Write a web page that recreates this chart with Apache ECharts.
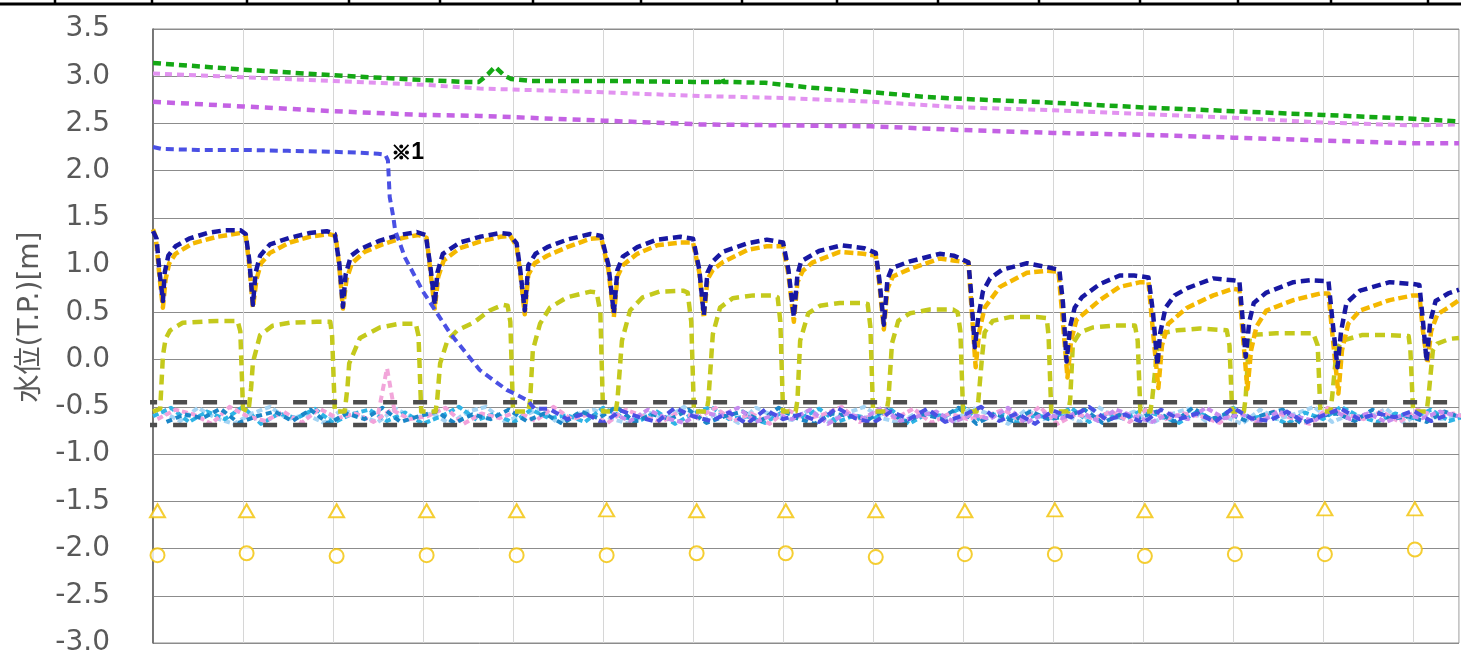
<!DOCTYPE html>
<html>
<head>
<meta charset="utf-8">
<script src="https://cdn.jsdelivr.net/npm/echarts@6/dist/echarts.min.js"></script>
<style>
  html, body { margin: 0; padding: 0; background: #ffffff; }
  #chart { width: 1461px; height: 653px; }
</style>
</head>
<body>
<div id="chart"></div>
<script>
// ---- axis range and labels ----
const yMin = -3.0, yMax = 3.5, yStep = 0.5;
const dayCount = 14.51;            // elapsed days shown on the x axis
const yAxisTitle = '水位(T.P.)[m]';
const noteLabel = '※1';

// ---- upper observation wells (slowly falling) ----
const wellGreen = [[0,3.14],[1.0,3.07],[2.0,3.01],[3.0,2.96],[3.45,2.94],[3.62,2.94],[3.72,3.02],[3.80,3.10],[3.90,3.01],[3.98,2.97],[4.2,2.95],[5.0,2.95],[6.0,2.94],[6.30,2.94],[6.32,2.99],[6.34,2.94],[6.8,2.93],[7.3,2.88],[8.0,2.83],[8.6,2.78],[9.0,2.76],[10.0,2.72],[11.0,2.67],[12.0,2.63],[13.0,2.59],[14.0,2.55],[14.51,2.52]];
const wellLavender = [[0,3.03],[1.0,2.99],[2.0,2.95],[3.0,2.91],[3.63,2.87],[5.0,2.83],[6.08,2.79],[7.0,2.77],[7.97,2.73],[9.0,2.67],[10.0,2.64],[11.0,2.60],[12.0,2.56],[13.0,2.51],[14.0,2.48],[14.51,2.49]];
const wellOrchid = [[0,2.73],[1.0,2.68],[2.0,2.63],[3.0,2.59],[3.63,2.58],[5.0,2.53],[6.08,2.49],[7.0,2.48],[7.97,2.47],[9.0,2.43],[10.0,2.40],[11.0,2.38],[12.0,2.35],[13.0,2.32],[14.0,2.29],[14.51,2.29]];

// ---- well marked ※1: steady, then drawn down into the pumping band ----
const wellNoteHead = [[0.00,2.25],[0.10,2.23],[0.5,2.22],[1.0,2.22],[1.5,2.21],[2.0,2.20],[2.3,2.19],[2.50,2.18],[2.58,2.17],[2.61,2.11],[2.63,1.72],[2.67,1.51],[2.69,1.37],[2.80,1.08],[3.0,0.72],[3.30,0.28],[3.63,-0.11],[3.93,-0.32],[4.16,-0.43],[4.24,-0.52]];
const notePointIndex = 8;
const wellNoteTailStart = 4.4;
const wellNoteTail = [-0.52,-0.63,-0.57,-0.67,-0.54,-0.61,-0.66,-0.51,-0.60,-0.65,
  -0.56,-0.68,-0.53,-0.63,-0.58,-0.66,-0.51,-0.62,-0.67,-0.55,
  -0.63,-0.52,-0.66,-0.59,-0.50,-0.65,-0.57,-0.68,-0.54,-0.61,
  -0.50,-0.64,-0.58,-0.67,-0.53,-0.63,-0.57,-0.66,-0.51,-0.62,
  -0.65,-0.55,-0.67,-0.59,-0.52,-0.63,-0.57,-0.61,-0.54,-0.65,-0.58];

// ---- daily drawdown / recovery wells ----
const wellNavy = [
  [0.00,1.36],[0.04,1.28],[0.07,0.95],[0.11,0.62],[0.13,0.92],[0.17,1.10],[0.25,1.20],[0.40,1.28],[0.60,1.34],[0.80,1.37],[0.97,1.37],[1.03,1.33],
  [1.07,1.05],[1.11,0.58],[1.14,0.92],[1.19,1.10],[1.30,1.22],[1.52,1.29],[1.74,1.34],[1.93,1.36],[2.02,1.33],
  [2.07,1.02],[2.11,0.56],[2.14,0.90],[2.20,1.10],[2.30,1.17],[2.52,1.26],[2.74,1.32],[2.93,1.35],[3.03,1.32],
  [3.08,1.00],[3.13,0.58],[3.16,0.92],[3.22,1.12],[3.41,1.24],[3.63,1.30],[3.86,1.34],[3.96,1.33],[4.04,1.23],
  [4.08,0.95],[4.13,0.52],[4.17,1.00],[4.25,1.12],[4.38,1.19],[4.60,1.27],[4.86,1.33],[4.98,1.31],
  [5.06,1.00],[5.12,0.49],[5.16,0.95],[5.22,1.09],[5.38,1.19],[5.60,1.27],[5.86,1.30],[6.00,1.28],
  [6.07,0.95],[6.12,0.47],[6.16,0.92],[6.22,1.04],[6.33,1.14],[6.60,1.23],[6.82,1.27],[7.00,1.24],
  [7.06,0.95],[7.12,0.45],[7.16,0.90],[7.20,1.04],[7.40,1.15],[7.65,1.21],[7.90,1.18],[8.03,1.13],
  [8.07,0.85],[8.12,0.37],[8.16,0.85],[8.21,0.97],[8.41,1.04],[8.74,1.12],[8.90,1.10],[9.06,1.03],
  [9.09,0.70],[9.13,0.13],[9.17,0.45],[9.22,0.72],[9.30,0.86],[9.43,0.95],[9.71,1.02],[9.93,0.98],[10.07,0.95],
  [10.11,0.60],[10.15,-0.02],[10.19,0.35],[10.24,0.55],[10.32,0.66],[10.52,0.80],[10.74,0.89],[10.90,0.89],[11.06,0.87],
  [11.11,0.50],[11.16,-0.06],[11.19,0.28],[11.25,0.55],[11.35,0.68],[11.50,0.76],[11.78,0.86],[12.00,0.84],[12.07,0.83],
  [12.10,0.50],[12.14,0.03],[12.18,0.40],[12.23,0.60],[12.37,0.71],[12.67,0.82],[12.86,0.84],[13.06,0.83],
  [13.10,0.45],[13.16,-0.08],[13.20,0.30],[13.26,0.60],[13.41,0.73],[13.74,0.82],[14.00,0.80],[14.07,0.79],
  [14.11,0.40],[14.15,-0.02],[14.19,0.40],[14.25,0.62],[14.39,0.70],[14.51,0.74]
];
const wellGold = [
  [0.00,1.38],[0.03,1.30],[0.07,0.90],[0.11,0.55],[0.14,0.85],[0.18,1.02],[0.25,1.12],[0.44,1.23],[0.71,1.30],[0.97,1.34],[1.03,1.31],
  [1.07,1.00],[1.11,0.55],[1.15,0.85],[1.20,1.02],[1.30,1.13],[1.52,1.24],[1.74,1.30],[1.95,1.33],[2.03,1.31],
  [2.07,0.98],[2.11,0.54],[2.15,0.85],[2.21,1.02],[2.35,1.14],[2.55,1.22],[2.78,1.29],[2.95,1.32],[3.04,1.29],
  [3.08,0.95],[3.13,0.54],[3.17,0.88],[3.23,1.05],[3.41,1.18],[3.63,1.25],[3.86,1.30],[3.97,1.31],[4.04,1.20],
  [4.08,0.92],[4.13,0.48],[4.17,0.90],[4.24,1.02],[4.38,1.10],[4.60,1.19],[4.86,1.28],[4.98,1.29],
  [5.06,0.95],[5.12,0.45],[5.16,0.88],[5.22,1.00],[5.38,1.12],[5.60,1.21],[5.86,1.24],[6.00,1.24],
  [6.07,0.92],[6.12,0.44],[6.16,0.85],[6.22,0.95],[6.33,1.03],[6.60,1.16],[6.82,1.20],[7.00,1.20],
  [7.06,0.90],[7.12,0.40],[7.16,0.82],[7.22,0.94],[7.33,1.03],[7.63,1.14],[7.89,1.12],[8.03,1.10],
  [8.07,0.80],[8.12,0.32],[8.16,0.75],[8.22,0.88],[8.41,0.96],[8.74,1.07],[8.89,1.05],[9.06,1.03],
  [9.09,0.60],[9.14,-0.08],[9.18,0.30],[9.24,0.55],[9.41,0.77],[9.71,0.92],[9.93,0.94],[10.06,0.93],
  [10.10,0.50],[10.16,-0.19],[10.20,0.20],[10.26,0.42],[10.52,0.63],[10.74,0.77],[10.97,0.82],[11.06,0.82],
  [11.10,0.40],[11.17,-0.30],[11.21,0.15],[11.28,0.38],[11.49,0.55],[11.78,0.68],[12.00,0.75],[12.07,0.74],
  [12.10,0.35],[12.16,-0.31],[12.20,0.10],[12.26,0.35],[12.37,0.52],[12.67,0.63],[12.97,0.70],[13.06,0.70],
  [13.10,0.30],[13.17,-0.36],[13.21,0.10],[13.28,0.38],[13.41,0.52],[13.74,0.63],[14.00,0.68],[14.07,0.68],
  [14.11,0.30],[14.16,-0.04],[14.20,0.30],[14.27,0.48],[14.39,0.55],[14.51,0.63]
];
const wellOlive = [
  [0.00,-0.55],[0.08,-0.52],[0.11,0.04],[0.14,0.22],[0.19,0.31],[0.33,0.39],[0.71,0.41],[0.94,0.41],[0.97,0.30],[1.00,-0.52],[1.06,-0.55],
  [1.09,-0.30],[1.11,-0.03],[1.19,0.26],[1.33,0.36],[1.52,0.39],[1.82,0.40],[1.97,0.40],[1.99,0.25],[2.02,-0.55],[2.13,-0.55],
  [2.16,-0.30],[2.18,-0.04],[2.30,0.23],[2.52,0.34],[2.74,0.38],[2.92,0.38],[2.95,0.25],[2.98,-0.55],[3.14,-0.55],
  [3.16,-0.40],[3.19,-0.04],[3.27,0.20],[3.38,0.31],[3.56,0.39],[3.74,0.52],[3.89,0.58],[3.94,0.57],[3.97,0.40],[4.00,-0.55],[4.17,-0.55],
  [4.19,-0.43],[4.22,0.10],[4.30,0.38],[4.41,0.55],[4.60,0.66],[4.86,0.72],[4.93,0.71],[4.97,0.50],[5.00,-0.55],[5.14,-0.55],
  [5.16,-0.43],[5.21,0.20],[5.30,0.52],[5.44,0.66],[5.63,0.72],[5.89,0.73],[5.94,0.71],[5.98,0.40],[6.01,-0.55],[6.15,-0.55],
  [6.17,-0.43],[6.22,0.27],[6.30,0.55],[6.44,0.65],[6.67,0.68],[6.89,0.68],[6.94,0.66],[6.97,0.40],[7.00,-0.55],[7.14,-0.55],
  [7.16,-0.43],[7.19,0.20],[7.28,0.49],[7.41,0.57],[7.63,0.60],[7.86,0.60],[7.94,0.59],[7.97,0.35],[8.00,-0.55],[8.15,-0.55],
  [8.17,-0.43],[8.21,0.17],[8.28,0.41],[8.41,0.49],[8.63,0.53],[8.89,0.53],[8.94,0.50],[8.97,0.30],[9.00,-0.55],[9.15,-0.55],
  [9.17,-0.43],[9.21,0.02],[9.24,0.29],[9.33,0.41],[9.52,0.45],[9.82,0.45],[9.93,0.44],[9.95,0.25],[9.98,-0.55],[10.17,-0.55],
  [10.19,-0.43],[10.22,0.17],[10.30,0.29],[10.44,0.34],[10.67,0.36],[10.91,0.36],[10.94,0.20],[10.97,-0.55],[11.08,-0.55],
  [11.10,-0.43],[11.16,0.13],[11.22,0.28],[11.38,0.31],[11.63,0.33],[11.93,0.31],[11.96,0.15],[11.99,-0.55],[12.12,-0.55],
  [12.14,-0.40],[12.17,0.10],[12.19,0.26],[12.48,0.28],[12.89,0.28],[12.94,0.15],[12.97,-0.55],[13.08,-0.55],
  [13.10,-0.40],[13.15,0.10],[13.21,0.20],[13.43,0.26],[13.73,0.26],[13.95,0.25],[13.97,0.10],[14.00,-0.55],[14.15,-0.55],
  [14.17,-0.40],[14.22,0.10],[14.27,0.17],[14.41,0.22],[14.51,0.23]
];

// ---- wells held inside the pumping band (sampled every 0.2 day) ----
const bandStep = 0.2;
const bandCyan = [-0.60,-0.51,-0.66,-0.55,-0.63,-0.50,-0.68,-0.57,-0.62,-0.52,
  -0.67,-0.58,-0.53,-0.65,-0.56,-0.68,-0.60,-0.50,-0.64,-0.57,
  -0.67,-0.53,-0.62,-0.59,-0.66,-0.51,-0.60,-0.65,-0.55,-0.68,
  -0.57,-0.50,-0.63,-0.60,-0.67,-0.55,-0.62,-0.52,-0.66,-0.59,
  -0.63,-0.53,-0.68,-0.57,-0.60,-0.50,-0.65,-0.56,-0.67,-0.59,
  -0.62,-0.51,-0.66,-0.57,-0.63,-0.53,-0.60,-0.67,-0.55,-0.65,
  -0.51,-0.62,-0.59,-0.68,-0.56,-0.63,-0.50,-0.60,-0.66,-0.57,
  -0.62,-0.53,-0.65,-0.59];
const bandSky = [-0.55,-0.65,-0.51,-0.62,-0.68,-0.57,-0.50,-0.63,-0.58,-0.67,
  -0.53,-0.60,-0.66,-0.52,-0.62,-0.57,-0.68,-0.55,-0.50,-0.65,
  -0.60,-0.52,-0.67,-0.58,-0.53,-0.63,-0.68,-0.56,-0.62,-0.50,
  -0.65,-0.55,-0.67,-0.51,-0.60,-0.64,-0.53,-0.66,-0.57,-0.50,
  -0.62,-0.67,-0.55,-0.60,-0.65,-0.51,-0.58,-0.68,-0.53,-0.63,
  -0.57,-0.66,-0.50,-0.62,-0.55,-0.67,-0.58,-0.52,-0.65,-0.60,
  -0.68,-0.53,-0.63,-0.57,-0.50,-0.66,-0.58,-0.62,-0.52,-0.67,
  -0.55,-0.63,-0.60,-0.53];
const bandPink = [-0.63,-0.53,-0.58,-0.68,-0.50,-0.60,-0.65,-0.55,-0.67,-0.52,
  -0.62,-0.57,-0.66,-0.53,-0.63,-0.60,-0.51,-0.68,-0.57,-0.62,
  -0.55,-0.65,-0.50,-0.63,-0.58,-0.67,-0.53,-0.60,-0.66,-0.55,
  -0.62,-0.51,-0.65,-0.57,-0.68,-0.53,-0.63,-0.58,-0.50,-0.66,
  -0.55,-0.62,-0.52,-0.67,-0.57,-0.63,-0.60,-0.53,-0.65,-0.50,
  -0.68,-0.58,-0.62,-0.55,-0.66,-0.52,-0.63,-0.57,-0.60,-0.67,
  -0.53,-0.65,-0.55,-0.62,-0.68,-0.51,-0.58,-0.63,-0.55,-0.66,
  -0.53,-0.60,-0.57,-0.63];
const bandTeal = [-0.66,-0.58,-0.62,-0.52,-0.67,-0.60,-0.55,-0.65,-0.53,-0.68,
  -0.57,-0.63,-0.51,-0.66,-0.60,-0.55,-0.67,-0.58,-0.63,-0.53,
  -0.65,-0.57,-0.68,-0.55,-0.62,-0.50,-0.66,-0.58,-0.63,-0.53,
  -0.67,-0.60,-0.55,-0.65,-0.51,-0.62,-0.68,-0.57,-0.60,-0.63,
  -0.53,-0.66,-0.58,-0.62,-0.51,-0.68,-0.57,-0.65,-0.55,-0.63,
  -0.60,-0.53,-0.67,-0.58,-0.62,-0.55,-0.66,-0.51,-0.63,-0.57,
  -0.65,-0.58,-0.53,-0.67,-0.60,-0.57,-0.65,-0.53,-0.63,-0.60,
  -0.66,-0.55,-0.62,-0.58];
const bandVioletStart = 5.1;
const bandViolet = [-0.57,-0.65,-0.53,-0.62,-0.67,-0.55,-0.60,-0.51,-0.66,-0.58,
  -0.63,-0.53,-0.68,-0.57,-0.62,-0.51,-0.65,-0.60,-0.55,-0.66,
  -0.58,-0.63,-0.51,-0.67,-0.57,-0.62,-0.55,-0.65,-0.53,-0.60,
  -0.66,-0.57,-0.63,-0.51,-0.62,-0.58,-0.67,-0.55,-0.60,-0.65,
  -0.53,-0.63,-0.57,-0.66,-0.58,-0.62,-0.55,-0.60];
const pinkSpike = [[2.50,-0.58],[2.60,-0.09],[2.69,-0.58]];

// ---- control band limits ----
const bandLimits = [-0.452, -0.691];
const bandLimitFrom = -0.11;

// ---- daily manual readings ----
const readDays = [0.05,1.04,2.04,3.04,4.04,5.04,6.04,7.03,8.03,9.02,10.02,11.02,12.02,13.02,14.02];
const readTriangle = [-1.60,-1.60,-1.60,-1.60,-1.60,-1.59,-1.60,-1.60,-1.60,-1.60,-1.59,-1.60,-1.60,-1.58,-1.58];
const readCircle = [-2.07,-2.05,-2.08,-2.07,-2.07,-2.07,-2.05,-2.05,-2.09,-2.06,-2.06,-2.08,-2.06,-2.06,-2.01];

// ---- header rule above the chart (page layout) ----
const headerTickX = [55,152,247,349,440,533,641,742,837,938,1039,1140,1238,1331,1428];

const stepped = (start, vals) => vals.map((v, i) => [+(start + i * bandStep).toFixed(3), v]);

function lineSeries(name, data, color, width, dash, extra) {
  return Object.assign({
    name, type: 'line', data, symbol: 'none', showSymbol: false,
    lineStyle: { color, width, type: dash, cap: 'butt', join: 'round' },
    silent: true
  }, extra || {});
}

const chart = echarts.init(document.getElementById('chart'), null, { renderer: 'canvas' });

const noteData = wellNoteHead.concat(stepped(wellNoteTailStart, wellNoteTail));

const series = [
  lineSeries('bandSky', stepped(0.1, bandSky), '#a4d4f4', 4, [6, 3]),
  lineSeries('bandCyan', stepped(0, bandCyan), '#2eb4e6', 4, [6, 3]),
  lineSeries('bandPink', stepped(0.05, bandPink), '#f2a2da', 4, [6, 3]),
  lineSeries('bandTeal', stepped(0.15, bandTeal), '#1a86c8', 4, [6, 4]),
  lineSeries('bandViolet', stepped(bandVioletStart, bandViolet), '#c68cee', 4, [6, 3]),
  lineSeries('pinkSpike', pinkSpike, '#f2a6da', 4, [7, 5]),
  lineSeries('wellOlive', wellOlive, '#c4c91c', 4.5, [10, 6]),
  lineSeries('wellGold', wellGold, '#f4b800', 4.5, [9, 4]),
  lineSeries('wellNavy', wellNavy, '#1818a2', 4.5, [9, 5]),
  lineSeries('wellNote', noteData, '#4a50e4', 4, [8, 5], {
    markPoint: {
      symbol: 'circle', symbolSize: 0, silent: true,
      data: [{
        coord: wellNoteHead[notePointIndex],
        label: {
          show: true, position: 'right', distance: 6, offset: [0, -2],
          formatter: '{mark|' + noteLabel.slice(0, 1) + '}{num|' + noteLabel.slice(1) + '}',
          rich: {
            mark: {
              fontSize: 20, fontWeight: 'bold', color: '#000000',
              textBorderColor: '#000000', textBorderWidth: 1,
              fontFamily: '"Noto Sans CJK JP", sans-serif'
            },
            num: {
              fontSize: 23, fontWeight: 'bold', color: '#000000',
              fontFamily: '"Liberation Sans", sans-serif'
            }
          }
        }
      }]
    }
  }),
  lineSeries('wellOrchid', wellOrchid, '#c462e4', 4.5, [8, 6]),
  lineSeries('wellLavender', wellLavender, '#e292f0', 4, [7, 5]),
  lineSeries('wellGreen', wellGreen, '#14a814', 4.5, [8, 5]),
  ...bandLimits.map((lv, i) => lineSeries('limit' + i, [[bandLimitFrom, lv], [dayCount, lv]], '#4d4d4d', 4.5, [14, 16], { clip: false, z: 5 })),
  {
    name: 'readTriangle', type: 'scatter', symbol: 'emptyTriangle', symbolSize: [15, 13],
    data: readDays.map((d, i) => [d, readTriangle[i]]),
    itemStyle: { color: '#f2c200', borderColor: '#f2c200', borderWidth: 3 }, z: 6, silent: true
  },
  {
    name: 'readCircle', type: 'scatter', symbol: 'emptyCircle', symbolSize: 14,
    data: readDays.map((d, i) => [d, readCircle[i]]),
    itemStyle: { color: '#f2c200', borderColor: '#f2c200', borderWidth: 3 }, z: 6, silent: true
  }
];

const graphic = [{
  type: 'line', shape: { x1: 0, y1: 4, x2: 1461, y2: 4 },
  style: { stroke: '#000000', lineWidth: 3 }, silent: true
}].concat(headerTickX.map(x => ({
  type: 'line', shape: { x1: x, y1: 0, x2: x, y2: 5 },
  style: { stroke: '#000000', lineWidth: 2.5 }, silent: true
})));

chart.setOption({
  animation: false,
  backgroundColor: '#ffffff',
  grid: {
    left: 153, right: 2, top: 29, bottom: 10,
    show: true, borderColor: '#8c8c8c', borderWidth: 1, backgroundColor: 'transparent',
    outerBoundsMode: 'none'
  },
  xAxis: {
    type: 'value', min: 0, max: dayCount, interval: 1,
    axisLine: { show: false }, axisTick: { show: false }, axisLabel: { show: false },
    splitLine: { show: true, lineStyle: { color: '#d6d6d6', width: 1 } }
  },
  yAxis: {
    type: 'value', min: yMin, max: yMax, interval: yStep,
    name: yAxisTitle, nameLocation: 'middle', nameGap: 106,
    nameTextStyle: {
      fontSize: 28, color: '#595959',
      fontFamily: '"DejaVu Sans", "Noto Sans CJK JP", sans-serif',
      padding: [0, 0, 0, 38]
    },
    axisLine: { show: true, lineStyle: { color: '#5a5a5a', width: 1.5 } },
    axisTick: { show: false },
    axisLabel: {
      margin: 43, fontSize: 28, color: '#595959',
      fontFamily: '"DejaVu Sans", sans-serif',
      padding: [0, 0, 9, 0],
      formatter: v => v.toFixed(1)
    },
    splitLine: { show: true, lineStyle: { color: '#8c8c8c', width: 1 } }
  },
  graphic,
  series
});
</script>
</body>
</html>
